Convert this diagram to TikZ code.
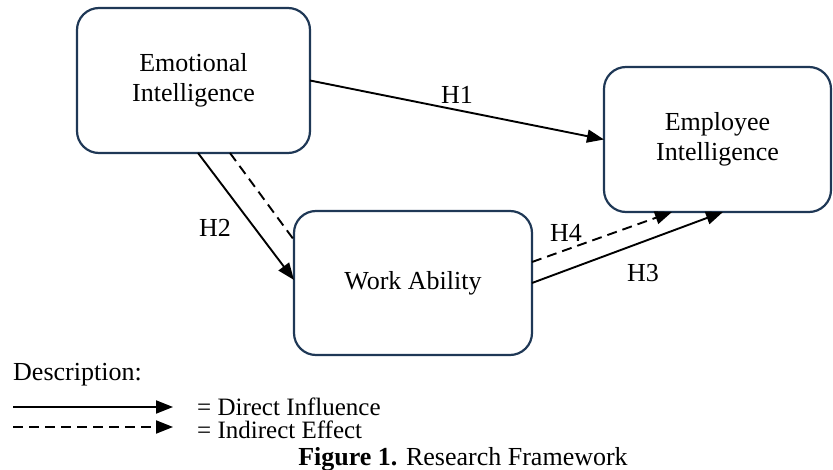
\documentclass[tikz,border=0pt]{standalone}
\usepackage{fontspec}
\setmainfont{Liberation Serif}
\usetikzlibrary{arrows.meta,calc}
\definecolor{boxline}{RGB}{31,56,86}
\begin{document}
\begin{tikzpicture}[x=1pt,y=-1pt,
  font=\fontsize{26}{30}\selectfont,
  varbox/.style={draw=boxline,line width=2.2pt,rounded corners=22pt,
    inner sep=0pt,outer sep=0pt,align=center},
  conn/.style={line width=1.9pt,-{Triangle[length=17pt,width=13pt]}},
  connd/.style={conn,dash pattern=on 10pt off 6pt},
  plainline/.style={line width=1.9pt,dash pattern=on 10pt off 6pt},
  lbl/.style={inner sep=0pt},
  keytext/.style={lbl,anchor=base west,text height=17pt,text depth=3pt,
    font=\fontsize{25}{30}\selectfont}]
\useasboundingbox (0,0) rectangle (833,470);

% constructs
\node[varbox,minimum width=233pt,minimum height=145pt] (emo) at (193.5,80.5)
  {Emotional\\Intelligence};
\node[varbox,minimum width=227pt,minimum height=145pt] (emp) at (717.5,139.5)
  {Employee\\Intelligence};
\node[varbox,minimum width=238pt,minimum height=144pt] (work) at (413,283)
  {Work Ability};

% hypothesised paths
\draw[conn] (emo.east) -- (emp.west);
\draw[conn] ($(emo.south)+(4.5,0)$) -- ($(work.west)+(0,-3)$);
\draw[plainline] ($(emo.south)+(36.5,0)$) -- ($(work.north west)+(0,29)$);
\draw[conn] (work.east) -- ($(emp.south)+(5.5,0)$);
\draw[connd] ($(work.east)+(0,-21)$) -- ($(emp.south)+(-45.5,0)$);

\node[lbl] (h1) at (457,95) {H1};
\node[lbl] (h2) at (215,228) {H2};
\node[lbl] (h3) at (643,273) {H3};
\node[lbl] (h4) at (566,233) {H4};

% legend
\node[lbl,anchor=west] (desc) at (13,375) {Description:};
\coordinate (la) at (13,407);
\coordinate (lb) at (173,407);
\coordinate (lc) at (13,427);
\coordinate (ld) at (173,427);
\draw[conn] (la) -- (lb);
\draw[connd] (lc) -- (ld);
\node[keytext] (ldir) at (197,415) {= Direct Influence};
\node[keytext] (lind) at (197,438) {= Indirect Effect};
\node[lbl,anchor=base,text height=17pt,text depth=3pt] (cap) at (463,465)
  {\textbf{Figure 1.} Research Framework};
\end{tikzpicture}
\end{document}
